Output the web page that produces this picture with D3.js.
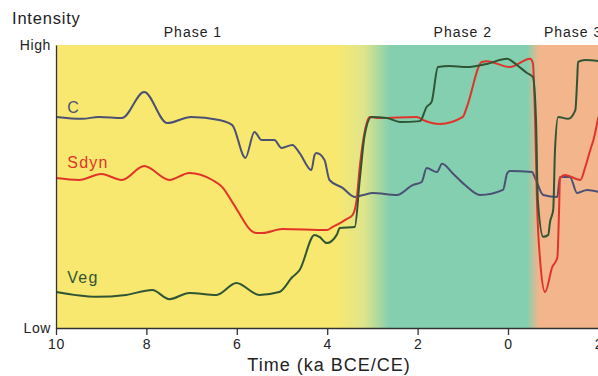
<!DOCTYPE html>
<html>
<head>
<meta charset="utf-8">
<script src="https://cdn.jsdelivr.net/npm/d3@7"></script>
<style>
  html, body { margin: 0; padding: 0; background: #ffffff; }
  svg { display: block; font-family: "Liberation Sans", Arial, Helvetica, sans-serif; }
</style>
</head>
<body>
<svg id="chart" width="598" height="376"></svg>
<script>
// ---- data (time in ka: negative = BCE, positive = CE; intensity 0 = Low, 100 = High)
const xTicks = [-10, -8, -6, -4, -2, 0, 2];
const yLabels = ["Low", "High"];

const phaseNames = ["Phase 1", "Phase 2", "Phase 3"];
const phaseLabelTimes = [-6.97, -1.0, 1.44];

// background colour stops (time, colour)
const bgStopTimes = [-10, -3.8, -3.2, -2.6, 0.42, 0.68, 2];
const bgStopColors = ["#f8e86f", "#f8e86f", "#e0e58a", "#83cfb0", "#83cfb0", "#f2b58c", "#f2b58c"];

const seriesNames = ["C", "Sdyn", "Veg"];
const seriesColors = ["#4b5174", "#e0332a", "#2f5535"];
const seriesLabelPos = [[-9.75, 76], [-9.75, 56.5], [-9.75, 15.9]];

const cTime = [-10, -9.42, -9.05, -8.54, -8.05, -7.54, -7.01, -6.39, -6.10, -5.81, -5.61, -5.45, -5.17, -5.01, -4.77, -4.61, -4.35, -4.28, -4.24, -4.06, -3.95, -3.66, -3.39, -3.2, -2.99, -2.46, -2.11, -1.91, -1.80, -1.57, -1.46, -1.22, -0.95, -0.62, -0.11, -0.02, 0.04, 0.53, 0.60, 0.78, 1.09, 1.15, 1.37, 1.53, 1.75, 2.0];
const cValue = [74.6, 73.9, 74.6, 74.2, 83.4, 72.4, 74.6, 73.5, 71.7, 60.1, 69.3, 66.4, 66.4, 63.6, 64.7, 61.8, 55.8, 61.1, 61.8, 59.4, 52.3, 49.5, 46.3, 47.0, 47.7, 47.0, 50.5, 51.6, 56.5, 55.1, 58.0, 54.6, 50.5, 47.0, 48.8, 54.6, 55.5, 55.1, 53.0, 47.0, 46.3, 53.4, 53.4, 47.7, 48.8, 48.1];

const sTime = [-10, -9.49, -9.00, -8.54, -8.05, -7.49, -7.05, -6.54, -6.32, -6.10, -5.57, -5.43, -4.99, -4.01, -3.88, -3.57, -3.44, -3.35, -3.28, -3.06, -2.84, -2.02, -1.88, -1.51, -1.00, -0.91, -0.58, -0.47, 0.04, 0.49, 0.55, 0.60, 0.64, 0.71, 0.82, 0.98, 1.09, 1.13, 1.15, 1.26, 1.60, 1.71, 1.82, 1.89, 2.0];
const sValue = [53.0, 52.3, 54.4, 52.3, 57.2, 52.3, 54.8, 52.3, 49.8, 44.5, 33.6, 33.6, 35.0, 34.6, 35.7, 38.5, 39.9, 45.2, 56.9, 74.6, 74.2, 74.6, 73.5, 72.1, 74.6, 78.1, 94.0, 94.3, 92.2, 95.1, 93.6, 73.5, 45.2, 24.0, 12.7, 21.6, 24.7, 41.7, 53.0, 54.1, 52.3, 56.9, 62.9, 66.4, 74.6];

const vTime = [-10, -9.11, -8.45, -7.87, -7.49, -7.05, -6.45, -6.01, -5.50, -5.06, -4.77, -4.61, -4.28, -4.17, -4.01, -3.79, -3.72, -3.39, -3.28, -3.17, -3.02, -2.68, -2.39, -1.95, -1.80, -1.69, -1.55, -1.29, -0.91, -0.47, -0.02, 0.20, 0.42, 0.55, 0.62, 0.66, 0.78, 0.89, 0.93, 1.00, 1.04, 1.11, 1.33, 1.49, 1.53, 1.55, 1.71, 2.0];
const vValue = [12.7, 11.0, 11.7, 13.4, 10.2, 12.4, 11.7, 15.9, 11.7, 12.7, 18.0, 20.5, 32.9, 32.2, 30.0, 32.9, 35.3, 35.7, 52.3, 68.2, 74.6, 74.2, 72.8, 73.1, 78.1, 79.9, 92.2, 92.6, 92.2, 93.3, 95.1, 92.9, 90.1, 88.7, 73.5, 45.2, 32.2, 32.9, 37.5, 41.7, 62.9, 74.6, 73.9, 77.0, 87.6, 94.0, 94.7, 94.3];

const seriesTimes = [cTime, sTime, vTime];
const seriesValues = [cValue, sValue, vValue];

// ---- layout
const svg = d3.select("#chart");
const mLeft = 56, mRight = 598.4, mTop = 45, mBottom = 328;
const x = d3.scaleLinear().domain([-10, 2]).range([mLeft, mRight]);
const y = d3.scaleLinear().domain([0, 100]).range([mBottom, mTop]);

// background gradient
const defs = svg.append("defs");
const grad = defs.append("linearGradient")
  .attr("id", "bg").attr("gradientUnits", "userSpaceOnUse")
  .attr("x1", x(-10)).attr("x2", x(2)).attr("y1", 0).attr("y2", 0);
bgStopTimes.forEach((t, i) => {
  grad.append("stop")
    .attr("offset", (x(t) - x(-10)) / (x(2) - x(-10)))
    .attr("stop-color", bgStopColors[i]);
});
svg.append("rect")
  .attr("x", x(-10)).attr("y", y(100))
  .attr("width", x(2) - x(-10)).attr("height", y(0) - y(100))
  .attr("fill", "url(#bg)");

defs.append("clipPath").attr("id", "clip").append("rect")
  .attr("x", x(-10)).attr("y", y(100) - 5)
  .attr("width", x(2) - x(-10)).attr("height", y(0) - y(100) + 5);

// lines
const line = d3.line()
  .x(d => x(d[0])).y(d => y(d[1]))
  .curve(d3.curveMonotoneX);

const lineG = svg.append("g").attr("clip-path", "url(#clip)");
seriesNames.forEach((name, i) => {
  const pts = seriesTimes[i].map((t, j) => [t, seriesValues[i][j]]);
  lineG.append("path")
    .datum(pts)
    .attr("d", line)
    .attr("fill", "none")
    .attr("stroke", seriesColors[i])
    .attr("stroke-width", 2)
    .attr("stroke-linejoin", "round");
});

// series labels
seriesNames.forEach((name, i) => {
  svg.append("text")
    .attr("x", x(seriesLabelPos[i][0]))
    .attr("y", y(seriesLabelPos[i][1]))
    .attr("font-size", 16)
    .attr("letter-spacing", name === "C" ? 0 : 1.2)
    .attr("fill", seriesColors[i])
    .text(name);
});

// x axis
const xAxis = d3.axisBottom(x)
  .tickValues(xTicks)
  .tickFormat(d => Math.abs(d))
  .tickSize(7)
  .tickSizeOuter(0);
const gx = svg.append("g")
  .attr("transform", `translate(0,${mBottom})`)
  .call(xAxis);
gx.select(".domain").attr("stroke", "#333").attr("stroke-width", 1.3);
gx.selectAll(".tick line").attr("stroke", "#333").attr("stroke-width", 1.3);
gx.selectAll(".tick text")
  .attr("font-size", 14)
  .attr("letter-spacing", 0.6)
  .attr("fill", "#222")
  .attr("dy", "0.85em")
  .attr("y", 9)
  .attr("font-family", "'Liberation Sans', Arial, sans-serif");

// y axis (no numeric ticks, just Low/High)
const yAxis = d3.axisLeft(y).tickValues([]).tickSizeOuter(0);
const gy = svg.append("g")
  .attr("transform", `translate(${mLeft},0)`)
  .call(yAxis);
gy.select(".domain").attr("stroke", "#333").attr("stroke-width", 1.3);

svg.append("text")
  .attr("x", mLeft - 5).attr("y", y(0) + 5)
  .attr("text-anchor", "end")
  .attr("font-size", 14).attr("letter-spacing", 0.6).attr("fill", "#222")
  .text(yLabels[0]);
svg.append("text")
  .attr("x", mLeft - 5).attr("y", y(100) + 5)
  .attr("text-anchor", "end")
  .attr("font-size", 14).attr("letter-spacing", 0.6).attr("fill", "#222")
  .text(yLabels[1]);

// axis titles
svg.append("text")
  .attr("x", 12).attr("y", 24)
  .attr("font-size", 16.5).attr("letter-spacing", 0.8).attr("fill", "#222")
  .text("Intensity");
svg.append("text")
  .attr("x", 329).attr("y", 371)
  .attr("text-anchor", "middle")
  .attr("font-size", 18).attr("letter-spacing", 1).attr("fill", "#222")
  .text("Time (ka BCE/CE)");

// phase labels
phaseNames.forEach((p, i) => {
  svg.append("text")
    .attr("x", x(phaseLabelTimes[i])).attr("y", 37)
    .attr("text-anchor", "middle")
    .attr("font-size", 14).attr("letter-spacing", 1).attr("fill", "#222")
    .text(p);
});
</script>
</body>
</html>
